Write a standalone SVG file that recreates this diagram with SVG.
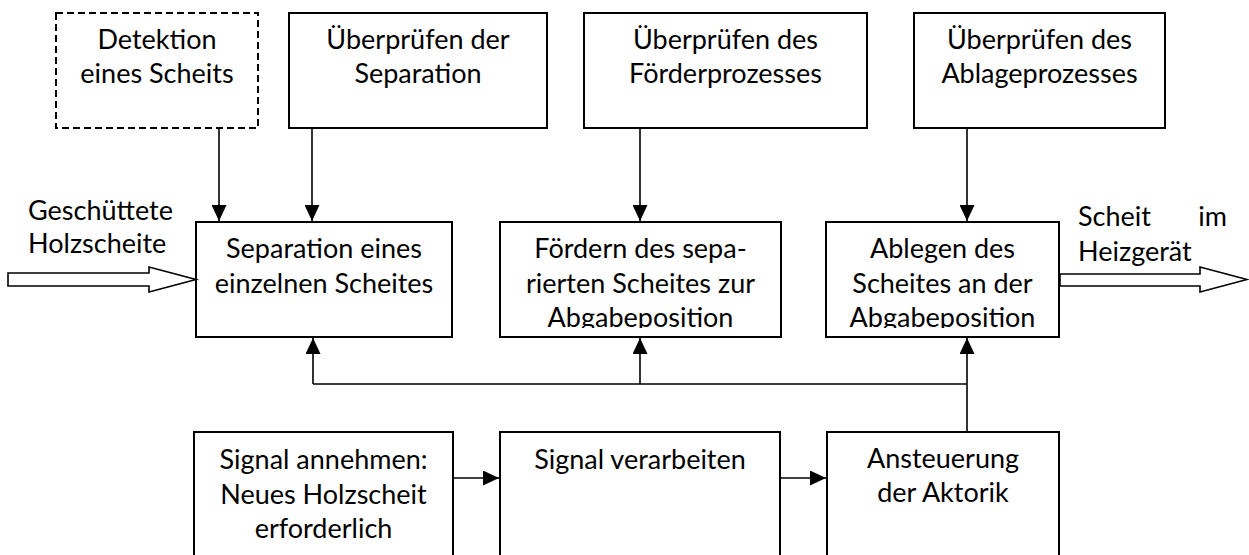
<svg xmlns="http://www.w3.org/2000/svg" width="1249" height="555" viewBox="0 0 1249 555">
<style>
.box{fill:#fff;stroke:#000;stroke-width:2}
.dash{stroke-dasharray:7 4}
.t{font-family:Lato,"Liberation Sans",sans-serif;font-size:27px;fill:#000;text-anchor:middle}
.l{text-anchor:start}
.e{text-anchor:end}
.c{fill:none;stroke:#000;stroke-width:1.6}
.h{fill:#fff;stroke:#000;stroke-width:1.6}
</style>
<defs>
<marker id="ah" viewBox="0 0 16 15" refX="16" refY="7.5" markerWidth="16" markerHeight="15" markerUnits="userSpaceOnUse" orient="auto">
<path d="M0,0 L16,7.5 L0,15 Z" fill="#000"/>
</marker>
<clipPath id="clipF"><rect x="500" y="222" width="281" height="106"/></clipPath>
<clipPath id="clipA"><rect x="826" y="222" width="233" height="106"/></clipPath>
</defs>
<rect width="1249" height="555" fill="#fff"/>

<g id="n_detektion">
<rect class="box dash" x="56" y="13" width="202" height="115"/>
<text class="t" x="157" y="49">Detektion</text>
<text class="t" x="157" y="83">eines Scheits</text>
</g>
<g id="n_pruef_sep">
<rect class="box" x="289" y="13" width="258" height="115"/>
<text class="t" x="418" y="49">Überprüfen der</text>
<text class="t" x="418" y="83">Separation</text>
</g>
<g id="n_pruef_foerder">
<rect class="box" x="584" y="13" width="283" height="115"/>
<text class="t" x="725.5" y="49">Überprüfen des</text>
<text class="t" x="725.5" y="83">Förderprozesses</text>
</g>
<g id="n_pruef_ablage">
<rect class="box" x="914" y="13" width="251" height="115"/>
<text class="t" x="1039.5" y="49">Überprüfen des</text>
<text class="t" x="1039.5" y="83">Ablageprozesses</text>
</g>

<g id="n_separation">
<rect class="box" x="196" y="222" width="256" height="115"/>
<text class="t" x="324" y="258">Separation eines</text>
<text class="t" x="324" y="292.5">einzelnen Scheites</text>
</g>
<g id="n_foerdern">
<rect class="box" x="500" y="222" width="281" height="115"/>
<g clip-path="url(#clipF)">
<text class="t" x="640.5" y="258">Fördern des sepa-</text>
<text class="t" x="640.5" y="292.5">rierten Scheites zur</text>
<text class="t" x="640.5" y="327">Abgabeposition</text>
</g>
</g>
<g id="n_ablegen">
<rect class="box" x="826" y="222" width="233" height="115"/>
<g clip-path="url(#clipA)">
<text class="t" x="942.5" y="258">Ablegen des</text>
<text class="t" x="942.5" y="292.5">Scheites an der</text>
<text class="t" x="942.5" y="327">Abgabeposition</text>
</g>
</g>

<g id="n_signal_annehmen">
<rect class="box" x="194" y="432" width="259" height="140"/>
<text class="t" x="323.5" y="469">Signal annehmen:</text>
<text class="t" x="323.5" y="503.5">Neues Holzscheit</text>
<text class="t" x="323.5" y="538">erforderlich</text>
</g>
<g id="n_signal_verarbeiten">
<rect class="box" x="500" y="432" width="280" height="140"/>
<text class="t" x="640" y="469">Signal verarbeiten</text>
</g>
<g id="n_ansteuerung">
<rect class="box" x="827" y="432" width="232" height="140"/>
<text class="t" x="943" y="468">Ansteuerung</text>
<text class="t" x="943" y="502">der Aktorik</text>
</g>

<g id="lbl_input">
<text class="t l" x="28" y="220">Geschüttete</text>
<text class="t l" x="28" y="253">Holzscheite</text>
</g>
<g id="lbl_output">
<text class="t l" x="1078" y="226">Scheit</text>
<text class="t e" x="1227" y="226">im</text>
<text class="t l" x="1078" y="261">Heizgerät</text>
</g>

<g id="connectors">
<polygon class="h" points="8,273 149,273 149,267 196,279.5 149,292 149,286 8,286"/>
<polygon class="h" points="1060,274 1200,274 1200,267 1247,279.5 1200,292 1200,286 1060,286"/>
<line class="c" x1="219" y1="129" x2="219" y2="221" marker-end="url(#ah)"/>
<line class="c" x1="312" y1="129" x2="312" y2="221" marker-end="url(#ah)"/>
<line class="c" x1="640" y1="129" x2="640" y2="221" marker-end="url(#ah)"/>
<line class="c" x1="967" y1="129" x2="967" y2="221" marker-end="url(#ah)"/>
<polyline class="c" points="313,384 967,384"/>
<line class="c" x1="313" y1="384" x2="313" y2="338" marker-end="url(#ah)"/>
<line class="c" x1="640" y1="384" x2="640" y2="338" marker-end="url(#ah)"/>
<line class="c" x1="967" y1="431" x2="967" y2="338" marker-end="url(#ah)"/>
<line class="c" x1="453" y1="478" x2="499" y2="478" marker-end="url(#ah)"/>
<line class="c" x1="780" y1="478" x2="826" y2="478" marker-end="url(#ah)"/>
</g>
</svg>
